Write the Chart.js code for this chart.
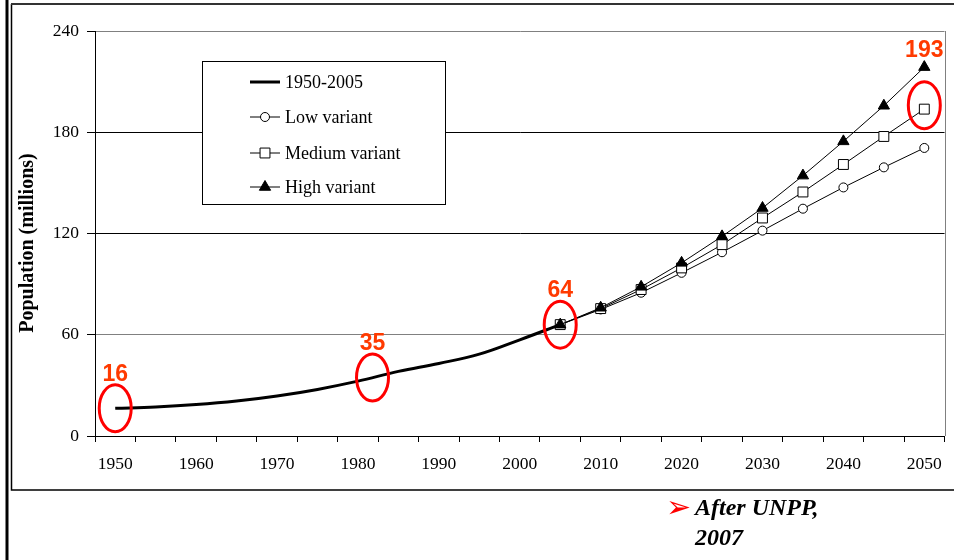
<!DOCTYPE html>
<html>
<head>
<meta charset="utf-8">
<script src="https://cdn.jsdelivr.net/npm/chart.js@4.4.1/dist/chart.umd.min.js"></script>
<style>
  html, body { margin: 0; padding: 0; background: #fff; }
  #wrap { position: relative; width: 954px; height: 560px; overflow: hidden; }
  #arrow { position: absolute; left: 666px; top: 490px; font: 30px "DejaVu Sans", sans-serif; line-height: 34px; color: #ff0000; }
  #note { position: absolute; left: 695px; top: 492px; font: italic bold 24px "Liberation Serif", "Times New Roman", serif; line-height: 30px; color: #000; }
</style>
</head>
<body>
<div id="wrap">
  <canvas id="chart" width="954" height="560"></canvas>
  <span id="arrow">➢</span>
  <div id="note">After UNPP,<br>2007</div>
</div>
<script>
const years = [1950, 1955, 1960, 1965, 1970, 1975, 1980, 1985, 1990, 1995, 2000,
  2005, 2010, 2015, 2020, 2025, 2030, 2035, 2040, 2045, 2050];
const tickYears = [1950, 1960, 1970, 1980, 1990, 2000, 2010, 2020, 2030, 2040, 2050];
const yTicks = [0, 60, 120, 180, 240];
const yTitle = "Population (millions)";

// 1950-2005 estimates
const estimates = [16.4, 17.2, 18.6, 20.7, 23.7, 27.6, 32.5, 38.3, 43, 48.5, 57, 66];
// projections 2005-2050
const lowVariant = [66, 75, 84.9, 96.7, 108.9, 121.7, 134.7, 147.3, 159.2, 170.7];
const mediumVariant = [66, 75.5, 86.8, 99.6, 113.4, 129.2, 144.6, 160.9, 177.5, 193.7];
const highVariant = [66, 76, 88.4, 102.6, 118.3, 135.1, 154.3, 174.6, 195.7, 218.6];

// circled values
const callouts = [
  { text: "16", year: 1950, value: 16.4 },
  { text: "35", year: 1981.8, value: 34.7 },
  { text: "64", year: 2005, value: 66 },
  { text: "193", year: 2050, value: 196, gap: 31 },
];

const startIdx = years.indexOf(2005);
const padTail = (arr) => arr.concat(Array(years.length - arr.length).fill(null));
const padHead = (arr) => Array(startIdx).fill(null).concat(arr);

Chart.defaults.font.family = '"Liberation Serif", "Times New Roman", serif';
Chart.defaults.color = "#000";

const frame = {
  id: "frame",
  beforeDraw(chart) {
    const ctx = chart.ctx;
    ctx.save();
    ctx.strokeStyle = "#000";
    ctx.lineWidth = 3;
    ctx.beginPath();
    ctx.moveTo(7, 0);
    ctx.lineTo(7, 560);
    ctx.stroke();
    ctx.lineWidth = 1.5;
    ctx.beginPath();
    ctx.moveTo(954, 490);
    ctx.lineTo(11.5, 490);
    ctx.lineTo(11.5, 4);
    ctx.stroke();
    ctx.strokeStyle = "#333";
    ctx.lineWidth = 2;
    ctx.beginPath();
    ctx.moveTo(11, 4);
    ctx.lineTo(954, 4);
    ctx.stroke();
    ctx.restore();
  },
  afterDraw(chart) {
    const { ctx, chartArea, scales } = chart;
    ctx.save();
    // right border of the plot
    ctx.strokeStyle = "#808080";
    ctx.lineWidth = 1;
    ctx.beginPath();
    ctx.moveTo(Math.round(chartArea.right) + 0.5, chartArea.top);
    ctx.lineTo(Math.round(chartArea.right) + 0.5, chartArea.bottom);
    ctx.stroke();

    // y axis title
    ctx.save();
    ctx.translate(28, 243);
    ctx.rotate(-Math.PI / 2);
    ctx.font = 'bold 20px "Liberation Serif", "Times New Roman", serif';
    ctx.fillStyle = "#000";
    ctx.textAlign = "center";
    ctx.textBaseline = "middle";
    ctx.fillText(yTitle, 0, 0);
    ctx.restore();

    // legend box
    const bx = 202, by = 61, bw = 243, bh = 143;
    ctx.fillStyle = "#fff";
    ctx.fillRect(bx, by, bw, bh);
    ctx.strokeStyle = "#000";
    ctx.lineWidth = 1;
    ctx.strokeRect(bx + 0.5, by + 0.5, bw, bh);
    const rows = [82, 117, 153, 187];
    ctx.font = '18px "Liberation Serif", "Times New Roman", serif';
    ctx.textBaseline = "middle";
    ctx.textAlign = "left";
    chart.data.datasets.forEach((ds, i) => {
      const y = rows[i];
      ctx.strokeStyle = "#000";
      ctx.lineWidth = ds.borderWidth;
      ctx.beginPath();
      ctx.moveTo(250, y);
      ctx.lineTo(280, y);
      ctx.stroke();
      if (ds.pointRadius > 0) {
        ctx.fillStyle = ds.pointBackgroundColor;
        ctx.lineWidth = 1;
        Chart.helpers.drawPoint(ctx, { pointStyle: ds.pointStyle, radius: ds.pointRadius, rotation: 0, borderWidth: 1 }, 265, y);
      }
      ctx.fillStyle = "#000";
      ctx.fillText(ds.label, 285, y + 1);
    });

    // red circles and numbers
    callouts.forEach((c) => {
      const x = scales.x.getPixelForValue((c.year - years[0]) / 5);
      const y = scales.y.getPixelForValue(c.value);
      const rx = 16, ry = 23.5;
      ctx.strokeStyle = "#ff0000";
      ctx.lineWidth = 3;
      ctx.beginPath();
      ctx.ellipse(x, y, rx, ry, 0, 0, Math.PI * 2);
      ctx.stroke();
      ctx.fillStyle = "#ff3a00";
      ctx.font = 'bold 23px "Liberation Sans", Arial, sans-serif';
      ctx.textAlign = "center";
      ctx.textBaseline = "middle";
      ctx.fillText(c.text, x, y - ry - (c.gap || 10));
    });
    ctx.restore();
  },
};

new Chart(document.getElementById("chart"), {
  type: "line",
  data: {
    labels: years.map(String),
    datasets: [
      {
        label: "1950-2005",
        data: padTail(estimates),
        borderColor: "#000",
        borderWidth: 3,
        pointRadius: 0,
        tension: 0.4,
        order: 0,
      },
      {
        label: "Low variant",
        data: padHead(lowVariant),
        borderColor: "#000",
        borderWidth: 1,
        pointStyle: "circle",
        pointRadius: 4.5,
        pointBackgroundColor: "#fff",
        pointBorderColor: "#000",
        pointBorderWidth: 1,
        order: 3,
      },
      {
        label: "Medium variant",
        data: padHead(mediumVariant),
        borderColor: "#000",
        borderWidth: 1,
        pointStyle: "rect",
        pointRadius: 7,
        pointBackgroundColor: "#fff",
        pointBorderColor: "#000",
        pointBorderWidth: 1,
        order: 2,
      },
      {
        label: "High variant",
        data: padHead(highVariant),
        borderColor: "#000",
        borderWidth: 1,
        pointStyle: "triangle",
        pointRadius: 6.5,
        pointBackgroundColor: "#000",
        pointBorderColor: "#000",
        pointBorderWidth: 1,
        order: 1,
      },
    ],
  },
  options: {
    responsive: false,
    animation: false,
    devicePixelRatio: 1,
    layout: { padding: { top: 31, right: 6, left: 0, bottom: 0 } },
    plugins: {
      legend: { display: false },
      tooltip: { enabled: false },
    },
    scales: {
      x: {
        offset: true,
        grid: { offset: true, drawOnChartArea: false, tickLength: 6, color: "#000" },
        border: { display: true, color: "#000", width: 1 },
        ticks: {
          autoSkip: false,
          maxRotation: 0,
          padding: 12,
          font: { size: 17.5 },
          callback: (v, i) => (tickYears.includes(years[i]) ? String(years[i]) : ""),
        },
        afterFit: (s) => { s.height = 124; },
      },
      y: {
        min: 0,
        max: 240,
        afterBuildTicks: (s) => { s.ticks = yTicks.map((v) => ({ value: v })); },
        ticks: { padding: 8, font: { size: 17.5 } },
        grid: {
          color: (c) => (c.tick && (c.tick.value === 120 || c.tick.value === 180) ? "#000" : "#808080"),
          tickColor: "#000",
          tickLength: 8,
        },
        border: { display: true, color: "#000", width: 1 },
        afterFit: (s) => { s.width = 95; },
      },
    },
  },
  plugins: [frame],
});
</script>
</body>
</html>
